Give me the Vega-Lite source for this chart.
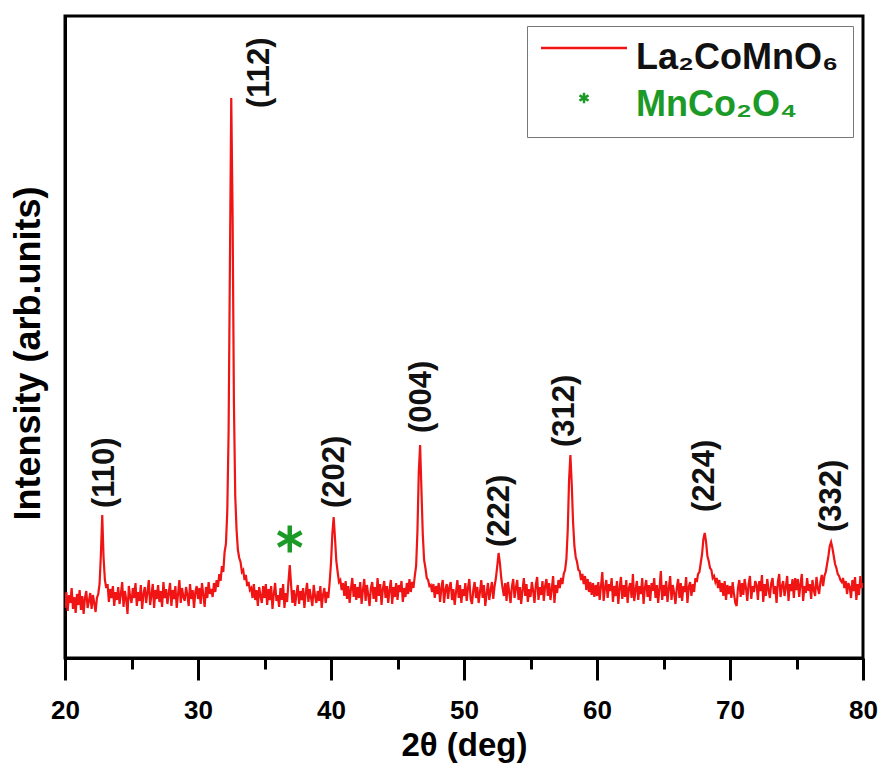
{
  "$schema": "https://vega.github.io/schema/vega-lite/v6.json",
  "width": 798,
  "height": 642,
  "autosize": {"type": "none"},
  "padding": {"left": 65, "top": 16, "right": 18, "bottom": 105},
  "background": "white",
  "config": {
    "font": "Liberation Sans",
    "view": {"stroke": "black", "strokeWidth": 3},
    "axis": {"domainColor": "black", "domainWidth": 3, "tickColor": "black", "tickWidth": 3, "grid": false}
  },
  "resolve": {"axis": {"x": "independent"}},
  "datasets": {
    "xrd": [
      {"t":20.0,"i":50},{"t":20.1,"i":66},{"t":20.2,"i":47},{"t":20.3,"i":63},{"t":20.4,"i":55},{"t":20.5,"i":70},{"t":20.6,"i":49},{"t":20.7,"i":61},{"t":20.8,"i":45},{"t":20.9,"i":64},
      {"t":21.0,"i":53},{"t":21.1,"i":68},{"t":21.2,"i":48},{"t":21.3,"i":62},{"t":21.4,"i":44},{"t":21.5,"i":60},{"t":21.6,"i":67},{"t":21.7,"i":50},{"t":21.8,"i":57},{"t":21.9,"i":65},
      {"t":22.0,"i":49},{"t":22.1,"i":63},{"t":22.2,"i":55},{"t":22.3,"i":46},{"t":22.4,"i":60},{"t":22.5,"i":64},{"t":22.6,"i":74},{"t":22.7,"i":104},{"t":22.8,"i":143},{"t":22.9,"i":100},
      {"t":23.0,"i":78},{"t":23.1,"i":70},{"t":23.2,"i":74},{"t":23.3,"i":56},{"t":23.4,"i":69},{"t":23.5,"i":60},{"t":23.6,"i":72},{"t":23.7,"i":52},{"t":23.8,"i":66},{"t":23.9,"i":58},
      {"t":24.0,"i":71},{"t":24.1,"i":54},{"t":24.2,"i":64},{"t":24.3,"i":76},{"t":24.4,"i":51},{"t":24.5,"i":67},{"t":24.6,"i":59},{"t":24.7,"i":44},{"t":24.8,"i":72},{"t":24.9,"i":61},
      {"t":25.0,"i":55},{"t":25.1,"i":70},{"t":25.2,"i":60},{"t":25.3,"i":75},{"t":25.4,"i":52},{"t":25.5,"i":66},{"t":25.6,"i":57},{"t":25.7,"i":73},{"t":25.8,"i":49},{"t":25.9,"i":64},
      {"t":26.0,"i":71},{"t":26.1,"i":55},{"t":26.2,"i":66},{"t":26.3,"i":78},{"t":26.4,"i":53},{"t":26.5,"i":63},{"t":26.6,"i":74},{"t":26.7,"i":50},{"t":26.8,"i":68},{"t":26.9,"i":59},
      {"t":27.0,"i":73},{"t":27.1,"i":56},{"t":27.2,"i":67},{"t":27.3,"i":51},{"t":27.4,"i":76},{"t":27.5,"i":60},{"t":27.6,"i":69},{"t":27.7,"i":54},{"t":27.8,"i":65},{"t":27.9,"i":75},
      {"t":28.0,"i":52},{"t":28.1,"i":68},{"t":28.2,"i":59},{"t":28.3,"i":72},{"t":28.4,"i":50},{"t":28.5,"i":64},{"t":28.6,"i":78},{"t":28.7,"i":55},{"t":28.8,"i":70},{"t":28.9,"i":61},
      {"t":29.0,"i":57},{"t":29.1,"i":71},{"t":29.2,"i":63},{"t":29.3,"i":52},{"t":29.4,"i":74},{"t":29.5,"i":59},{"t":29.6,"i":68},{"t":29.7,"i":50},{"t":29.8,"i":66},{"t":29.9,"i":72},
      {"t":30.0,"i":59},{"t":30.1,"i":70},{"t":30.2,"i":54},{"t":30.3,"i":75},{"t":30.4,"i":63},{"t":30.5,"i":51},{"t":30.6,"i":71},{"t":30.7,"i":60},{"t":30.8,"i":76},{"t":30.9,"i":64},
      {"t":31.0,"i":69},{"t":31.1,"i":61},{"t":31.2,"i":75},{"t":31.3,"i":66},{"t":31.4,"i":78},{"t":31.5,"i":71},{"t":31.6,"i":84},{"t":31.7,"i":77},{"t":31.8,"i":92},{"t":31.9,"i":86},
      {"t":32.0,"i":106},{"t":32.1,"i":114},{"t":32.2,"i":146},{"t":32.3,"i":225},{"t":32.4,"i":394},{"t":32.5,"i":560},{"t":32.6,"i":444},{"t":32.7,"i":256},{"t":32.8,"i":162},{"t":32.9,"i":128},
      {"t":33.0,"i":108},{"t":33.1,"i":100},{"t":33.2,"i":96},{"t":33.3,"i":86},{"t":33.4,"i":88},{"t":33.5,"i":78},{"t":33.6,"i":83},{"t":33.7,"i":72},{"t":33.8,"i":76},{"t":33.9,"i":68},
      {"t":34.0,"i":70},{"t":34.1,"i":60},{"t":34.2,"i":74},{"t":34.3,"i":58},{"t":34.4,"i":68},{"t":34.5,"i":52},{"t":34.6,"i":71},{"t":34.7,"i":62},{"t":34.8,"i":55},{"t":34.9,"i":72},
      {"t":35.0,"i":60},{"t":35.1,"i":74},{"t":35.2,"i":53},{"t":35.3,"i":69},{"t":35.4,"i":58},{"t":35.5,"i":72},{"t":35.6,"i":49},{"t":35.7,"i":64},{"t":35.8,"i":75},{"t":35.9,"i":57},
      {"t":36.0,"i":63},{"t":36.1,"i":51},{"t":36.2,"i":70},{"t":36.3,"i":58},{"t":36.4,"i":74},{"t":36.5,"i":50},{"t":36.6,"i":65},{"t":36.7,"i":56},{"t":36.8,"i":76},{"t":36.9,"i":93},
      {"t":37.0,"i":73},{"t":37.1,"i":55},{"t":37.2,"i":68},{"t":37.3,"i":52},{"t":37.4,"i":64},{"t":37.5,"i":73},{"t":37.6,"i":54},{"t":37.7,"i":67},{"t":37.8,"i":58},{"t":37.9,"i":70},
      {"t":38.0,"i":50},{"t":38.1,"i":65},{"t":38.2,"i":75},{"t":38.3,"i":56},{"t":38.4,"i":69},{"t":38.5,"i":60},{"t":38.6,"i":52},{"t":38.7,"i":73},{"t":38.8,"i":62},{"t":38.9,"i":55},
      {"t":39.0,"i":67},{"t":39.1,"i":57},{"t":39.2,"i":72},{"t":39.3,"i":50},{"t":39.4,"i":63},{"t":39.5,"i":70},{"t":39.6,"i":55},{"t":39.7,"i":66},{"t":39.8,"i":60},{"t":39.9,"i":76},
      {"t":40.0,"i":95},{"t":40.1,"i":124},{"t":40.2,"i":141},{"t":40.3,"i":120},{"t":40.4,"i":97},{"t":40.5,"i":86},{"t":40.6,"i":76},{"t":40.7,"i":78},{"t":40.8,"i":68},{"t":40.9,"i":75},
      {"t":41.0,"i":62},{"t":41.1,"i":77},{"t":41.2,"i":59},{"t":41.3,"i":72},{"t":41.4,"i":55},{"t":41.5,"i":69},{"t":41.6,"i":80},{"t":41.7,"i":61},{"t":41.8,"i":74},{"t":41.9,"i":58},
      {"t":42.0,"i":71},{"t":42.1,"i":60},{"t":42.2,"i":76},{"t":42.3,"i":54},{"t":42.4,"i":68},{"t":42.5,"i":79},{"t":42.6,"i":57},{"t":42.7,"i":73},{"t":42.8,"i":63},{"t":42.9,"i":52},
      {"t":43.0,"i":70},{"t":43.1,"i":76},{"t":43.2,"i":59},{"t":43.3,"i":71},{"t":43.4,"i":56},{"t":43.5,"i":80},{"t":43.6,"i":62},{"t":43.7,"i":74},{"t":43.8,"i":53},{"t":43.9,"i":69},
      {"t":44.0,"i":77},{"t":44.1,"i":60},{"t":44.2,"i":72},{"t":44.3,"i":55},{"t":44.4,"i":68},{"t":44.5,"i":78},{"t":44.6,"i":54},{"t":44.7,"i":71},{"t":44.8,"i":61},{"t":44.9,"i":75},
      {"t":45.0,"i":58},{"t":45.1,"i":73},{"t":45.2,"i":66},{"t":45.3,"i":77},{"t":45.4,"i":56},{"t":45.5,"i":70},{"t":45.6,"i":61},{"t":45.7,"i":75},{"t":45.8,"i":64},{"t":45.9,"i":79},
      {"t":46.0,"i":66},{"t":46.1,"i":76},{"t":46.2,"i":70},{"t":46.3,"i":82},{"t":46.4,"i":92},{"t":46.5,"i":127},{"t":46.6,"i":186},{"t":46.7,"i":213},{"t":46.8,"i":168},{"t":46.9,"i":124},
      {"t":47.0,"i":98},{"t":47.1,"i":90},{"t":47.2,"i":80},{"t":47.3,"i":78},{"t":47.4,"i":72},{"t":47.5,"i":73},{"t":47.6,"i":66},{"t":47.7,"i":74},{"t":47.8,"i":60},{"t":47.9,"i":72},
      {"t":48.0,"i":64},{"t":48.1,"i":75},{"t":48.2,"i":56},{"t":48.3,"i":70},{"t":48.4,"i":78},{"t":48.5,"i":55},{"t":48.6,"i":68},{"t":48.7,"i":74},{"t":48.8,"i":59},{"t":48.9,"i":71},
      {"t":49.0,"i":76},{"t":49.1,"i":58},{"t":49.2,"i":69},{"t":49.3,"i":53},{"t":49.4,"i":66},{"t":49.5,"i":78},{"t":49.6,"i":60},{"t":49.7,"i":73},{"t":49.8,"i":55},{"t":49.9,"i":69},
      {"t":50.0,"i":62},{"t":50.1,"i":75},{"t":50.2,"i":57},{"t":50.3,"i":70},{"t":50.4,"i":79},{"t":50.5,"i":59},{"t":50.6,"i":54},{"t":50.7,"i":68},{"t":50.8,"i":76},{"t":50.9,"i":60},
      {"t":51.0,"i":71},{"t":51.1,"i":55},{"t":51.2,"i":66},{"t":51.3,"i":78},{"t":51.4,"i":60},{"t":51.5,"i":73},{"t":51.6,"i":52},{"t":51.7,"i":64},{"t":51.8,"i":75},{"t":51.9,"i":58},
      {"t":52.0,"i":68},{"t":52.1,"i":76},{"t":52.2,"i":59},{"t":52.3,"i":72},{"t":52.4,"i":80},{"t":52.5,"i":92},{"t":52.6,"i":105},{"t":52.7,"i":95},{"t":52.8,"i":80},{"t":52.9,"i":70},
      {"t":53.0,"i":62},{"t":53.1,"i":75},{"t":53.2,"i":57},{"t":53.3,"i":76},{"t":53.4,"i":66},{"t":53.5,"i":55},{"t":53.6,"i":71},{"t":53.7,"i":79},{"t":53.8,"i":60},{"t":53.9,"i":70},
      {"t":54.0,"i":78},{"t":54.1,"i":58},{"t":54.2,"i":71},{"t":54.3,"i":54},{"t":54.4,"i":68},{"t":54.5,"i":80},{"t":54.6,"i":62},{"t":54.7,"i":74},{"t":54.8,"i":56},{"t":54.9,"i":69},
      {"t":55.0,"i":61},{"t":55.1,"i":76},{"t":55.2,"i":67},{"t":55.3,"i":55},{"t":55.4,"i":73},{"t":55.5,"i":81},{"t":55.6,"i":58},{"t":55.7,"i":71},{"t":55.8,"i":63},{"t":55.9,"i":77},
      {"t":56.0,"i":57},{"t":56.1,"i":72},{"t":56.2,"i":79},{"t":56.3,"i":62},{"t":56.4,"i":75},{"t":56.5,"i":58},{"t":56.6,"i":69},{"t":56.7,"i":82},{"t":56.8,"i":55},{"t":56.9,"i":73},
      {"t":57.0,"i":65},{"t":57.1,"i":78},{"t":57.2,"i":70},{"t":57.3,"i":80},{"t":57.4,"i":74},{"t":57.5,"i":84},{"t":57.6,"i":88},{"t":57.7,"i":99},{"t":57.8,"i":128},{"t":57.9,"i":178},
      {"t":58.0,"i":203},{"t":58.1,"i":174},{"t":58.2,"i":136},{"t":58.3,"i":112},{"t":58.4,"i":101},{"t":58.5,"i":96},{"t":58.6,"i":88},{"t":58.7,"i":87},{"t":58.8,"i":78},{"t":58.9,"i":84},
      {"t":59.0,"i":74},{"t":59.1,"i":82},{"t":59.2,"i":68},{"t":59.3,"i":79},{"t":59.4,"i":66},{"t":59.5,"i":76},{"t":59.6,"i":63},{"t":59.7,"i":75},{"t":59.8,"i":61},{"t":59.9,"i":73},
      {"t":60.0,"i":62},{"t":60.1,"i":76},{"t":60.2,"i":58},{"t":60.3,"i":72},{"t":60.4,"i":86},{"t":60.5,"i":57},{"t":60.6,"i":70},{"t":60.7,"i":78},{"t":60.8,"i":60},{"t":60.9,"i":74},
      {"t":61.0,"i":67},{"t":61.1,"i":80},{"t":61.2,"i":56},{"t":61.3,"i":72},{"t":61.4,"i":62},{"t":61.5,"i":77},{"t":61.6,"i":54},{"t":61.7,"i":70},{"t":61.8,"i":81},{"t":61.9,"i":59},
      {"t":62.0,"i":73},{"t":62.1,"i":61},{"t":62.2,"i":78},{"t":62.3,"i":55},{"t":62.4,"i":70},{"t":62.5,"i":75},{"t":62.6,"i":60},{"t":62.7,"i":84},{"t":62.8,"i":57},{"t":62.9,"i":68},
      {"t":63.0,"i":77},{"t":63.1,"i":58},{"t":63.2,"i":72},{"t":63.3,"i":64},{"t":63.4,"i":80},{"t":63.5,"i":54},{"t":63.6,"i":70},{"t":63.7,"i":78},{"t":63.8,"i":61},{"t":63.9,"i":73},
      {"t":64.0,"i":57},{"t":64.1,"i":75},{"t":64.2,"i":67},{"t":64.3,"i":80},{"t":64.4,"i":60},{"t":64.5,"i":73},{"t":64.6,"i":55},{"t":64.7,"i":70},{"t":64.8,"i":87},{"t":64.9,"i":58},
      {"t":65.0,"i":73},{"t":65.1,"i":62},{"t":65.2,"i":77},{"t":65.3,"i":56},{"t":65.4,"i":70},{"t":65.5,"i":82},{"t":65.6,"i":58},{"t":65.7,"i":73},{"t":65.8,"i":65},{"t":65.9,"i":54},
      {"t":66.0,"i":70},{"t":66.1,"i":79},{"t":66.2,"i":60},{"t":66.3,"i":75},{"t":66.4,"i":57},{"t":66.5,"i":72},{"t":66.6,"i":66},{"t":66.7,"i":81},{"t":66.8,"i":55},{"t":66.9,"i":71},
      {"t":67.0,"i":76},{"t":67.1,"i":62},{"t":67.2,"i":74},{"t":67.3,"i":66},{"t":67.4,"i":80},{"t":67.5,"i":76},{"t":67.6,"i":84},{"t":67.7,"i":86},{"t":67.8,"i":95},{"t":67.9,"i":104},
      {"t":68.0,"i":119},{"t":68.1,"i":125},{"t":68.2,"i":116},{"t":68.3,"i":102},{"t":68.4,"i":97},{"t":68.5,"i":90},{"t":68.6,"i":88},{"t":68.7,"i":80},{"t":68.8,"i":82},{"t":68.9,"i":76},
      {"t":69.0,"i":80},{"t":69.1,"i":70},{"t":69.2,"i":78},{"t":69.3,"i":66},{"t":69.4,"i":75},{"t":69.5,"i":62},{"t":69.6,"i":77},{"t":69.7,"i":58},{"t":69.8,"i":73},{"t":69.9,"i":64},
      {"t":70.0,"i":72},{"t":70.1,"i":60},{"t":70.2,"i":76},{"t":70.3,"i":64},{"t":70.4,"i":55},{"t":70.5,"i":52},{"t":70.6,"i":70},{"t":70.7,"i":78},{"t":70.8,"i":61},{"t":70.9,"i":75},
      {"t":71.0,"i":63},{"t":71.1,"i":79},{"t":71.2,"i":70},{"t":71.3,"i":57},{"t":71.4,"i":74},{"t":71.5,"i":82},{"t":71.6,"i":59},{"t":71.7,"i":72},{"t":71.8,"i":66},{"t":71.9,"i":77},
      {"t":72.0,"i":73},{"t":72.1,"i":58},{"t":72.2,"i":77},{"t":72.3,"i":67},{"t":72.4,"i":83},{"t":72.5,"i":56},{"t":72.6,"i":74},{"t":72.7,"i":62},{"t":72.8,"i":79},{"t":72.9,"i":68},
      {"t":73.0,"i":60},{"t":73.1,"i":75},{"t":73.2,"i":80},{"t":73.3,"i":64},{"t":73.4,"i":72},{"t":73.5,"i":55},{"t":73.6,"i":76},{"t":73.7,"i":84},{"t":73.8,"i":61},{"t":73.9,"i":72},
      {"t":74.0,"i":77},{"t":74.1,"i":62},{"t":74.2,"i":71},{"t":74.3,"i":82},{"t":74.4,"i":57},{"t":74.5,"i":74},{"t":74.6,"i":67},{"t":74.7,"i":79},{"t":74.8,"i":60},{"t":74.9,"i":80},
      {"t":75.0,"i":68},{"t":75.1,"i":79},{"t":75.2,"i":61},{"t":75.3,"i":74},{"t":75.4,"i":84},{"t":75.5,"i":57},{"t":75.6,"i":72},{"t":75.7,"i":65},{"t":75.8,"i":80},{"t":75.9,"i":67},
      {"t":76.0,"i":74},{"t":76.1,"i":59},{"t":76.2,"i":78},{"t":76.3,"i":68},{"t":76.4,"i":62},{"t":76.5,"i":81},{"t":76.6,"i":70},{"t":76.7,"i":64},{"t":76.8,"i":76},{"t":76.9,"i":83},
      {"t":77.0,"i":72},{"t":77.1,"i":82},{"t":77.2,"i":86},{"t":77.3,"i":94},{"t":77.4,"i":102},{"t":77.5,"i":112},{"t":77.6,"i":116},{"t":77.7,"i":110},{"t":77.8,"i":102},{"t":77.9,"i":94},
      {"t":78.0,"i":90},{"t":78.1,"i":84},{"t":78.2,"i":82},{"t":78.3,"i":78},{"t":78.4,"i":76},{"t":78.5,"i":80},{"t":78.6,"i":70},{"t":78.7,"i":77},{"t":78.8,"i":64},{"t":78.9,"i":75},
      {"t":79.0,"i":71},{"t":79.1,"i":60},{"t":79.2,"i":78},{"t":79.3,"i":67},{"t":79.4,"i":81},{"t":79.5,"i":58},{"t":79.6,"i":74},{"t":79.7,"i":63},{"t":79.8,"i":82},{"t":79.9,"i":70},
      {"t":80.0,"i":75}
    ],
    "labels": [
      {"t":23.0,"i":150,"hkl":"(110)"},
      {"t":34.66,"i":550,"hkl":"(112)"},
      {"t":40.3,"i":150,"hkl":"(202)"},
      {"t":46.84,"i":225,"hkl":"(004)"},
      {"t":52.7,"i":111,"hkl":"(222)"},
      {"t":57.6,"i":211,"hkl":"(312)"},
      {"t":68.1,"i":146,"hkl":"(224)"},
      {"t":77.67,"i":126,"hkl":"(332)"}
    ],
    "star": [
      {"t":36.9,"i":119}
    ]
  },
  "layer": [
    {
      "data": {"name": "xrd"},
      "mark": {"type": "line", "strokeWidth": 2.2, "clip": true},
      "encoding": {
        "x": {
          "field": "t", "type": "quantitative",
          "scale": {"domain": [20, 80], "nice": false, "zero": false},
          "axis": {
            "orient": "bottom",
            "title": "2θ (deg)",
            "titleFontSize": 33, "titleFontWeight": "bold", "titleColor": "black", "titlePadding": 6,
            "values": [20,30,40,50,60,70,80],
            "labelFontSize": 26, "labelFontWeight": "bold", "labelColor": "black",
            "labelPadding": 17, "labelOverlap": false, "labelFlush": false,
            "tickSize": 22
          }
        },
        "y": {
          "field": "i", "type": "quantitative",
          "scale": {"domain": [0, 642], "nice": false},
          "axis": {
            "title": "Intensity (arb.units)",
            "titleFontSize": 36, "titleFontWeight": "bold", "titleColor": "black",
            "titlePadding": 18, "titleY": 337,
            "ticks": false, "labels": false
          }
        },
        "color": {
          "datum": "La₂CoMnO₆",
          "type": "nominal",
          "scale": {"domain": ["La₂CoMnO₆", "MnCo₂O₄"], "range": ["#f01414", "#1c9a28"]},
          "legend": {
            "title": null,
            "orient": "top-right",
            "offset": 10,
            "padding": 14,
            "strokeColor": "#777777",
            "fillColor": "white",
            "symbolType": "stroke",
            "symbolSize": 822,
            "symbolStrokeWidth": 2.5,
            "symbolOffset": 25,
            "labelFontSize": 36,
            "labelFontWeight": "bold",
            "labelLimit": 0,
            "labelOffset": 34,
            "rowPadding": 11,
            "encode": {
              "symbols": {"update": {
                "shape": {"signal": "datum.value === 'MnCo₂O₄' ? 'M0,-2.35L0,-0.35M-0.866,-1.85L0.866,-0.85M-0.866,-0.85L0.866,-1.85' : 'M-3,-0.7L3,-0.7'"},
                "size": {"signal": "datum.value === 'MnCo₂O₄' ? 110 : 822"},
                "strokeWidth": {"value": 2.5},
                "fill": {"value": "transparent"}
              }},
              "labels": {"update": {
                "fill": {"signal": "datum.value === 'MnCo₂O₄' ? '#1c9a28' : '#111111'"}
              }}
            }
          }
        }
      }
    },
    {
      "data": {"name": "star"},
      "mark": {"type": "point", "shape": "M0,-1L0,1M-0.866,-0.5L0.866,0.5M-0.866,0.5L0.866,-0.5", "filled": false, "strokeWidth": 4.5, "size": 729, "opacity": 1},
      "encoding": {
        "x": {
          "field": "t", "type": "quantitative",
          "axis": {"orient": "bottom", "values": [25,35,45,55,65,75], "tickSize": 11, "labels": false, "domain": false, "title": null}
        },
        "y": {"field": "i", "type": "quantitative"},
        "color": {"datum": "MnCo₂O₄", "type": "nominal"}
      }
    },
    {
      "data": {"name": "labels"},
      "mark": {"type": "text", "angle": 270, "align": "left", "baseline": "middle", "fontSize": 31, "fontWeight": "bold", "color": "#111111"},
      "encoding": {
        "x": {"field": "t", "type": "quantitative", "axis": null},
        "y": {"field": "i", "type": "quantitative"},
        "text": {"field": "hkl", "type": "nominal"}
      }
    }
  ]
}
